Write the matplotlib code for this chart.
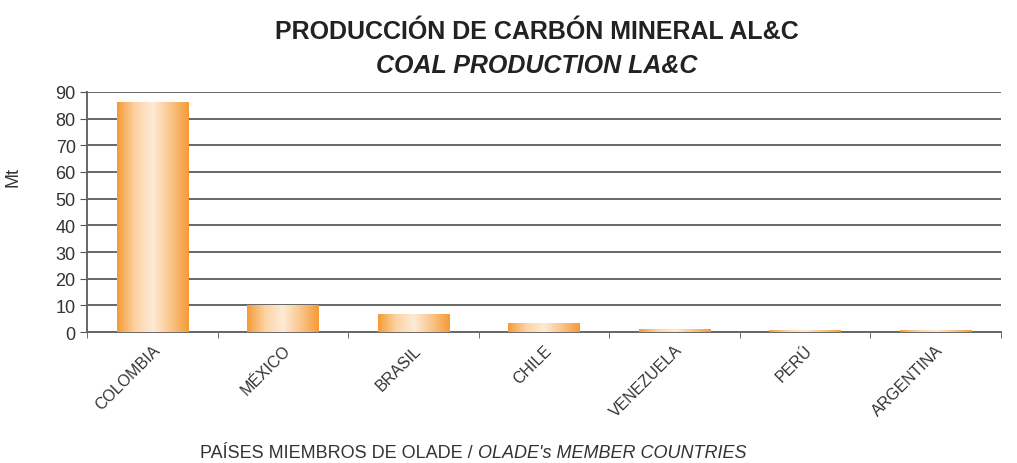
import numpy as np
import matplotlib.pyplot as plt
from matplotlib.colors import LinearSegmentedColormap

paises = ['COLOMBIA', 'MÉXICO', 'BRASIL', 'CHILE', 'VENEZUELA', 'PERÚ', 'ARGENTINA']
produccion = [85.9, 10.1, 6.7, 3.2, 1.0, 0.5, 0.4]
yticks = list(range(0, 91, 10))

plt.rcParams['font.family'] = ['Liberation Sans', 'DejaVu Sans']

fig = plt.figure(figsize=(10.17, 4.64), dpi=100)
ax = fig.add_axes([0.086, 0.282, 0.898, 0.518])

# gradient: orange edge -> light centre -> orange edge
cmap = LinearSegmentedColormap.from_list('naranja', ['#F59A35', '#FCD3A3', '#FDEBD6', '#FAC58A', '#F59A35'])
grad = np.linspace(0, 1, 256).reshape(1, -1)
ancho = 0.55
x = np.arange(len(paises))
for xi, v in zip(x, produccion):
    ax.imshow(grad, cmap=cmap, aspect='auto', extent=[xi - ancho / 2, xi + ancho / 2, 0, v], zorder=3)

ax.set_xlim(-0.5, len(paises) - 0.5)
ax.set_ylim(0, 90)
ax.set_yticks(yticks)
ax.set_xticks(x)
ax.set_xticks(np.arange(-0.5, len(paises), 1), minor=True)
ax.set_xticklabels(paises, rotation=45, ha='right', rotation_mode='anchor', fontsize=11.5, color='#333333')
ax.tick_params(axis='x', which='major', length=0, pad=7)
ax.tick_params(axis='x', which='minor', length=4, color='#555555')
ax.tick_params(axis='y', labelsize=13, length=5, color='#555555', labelcolor='#333333')
ax.yaxis.grid(True, color='#666666', linewidth=1.4, zorder=0)
ax.set_axisbelow(True)
for s in ['top', 'right']:
    ax.spines[s].set_visible(False)
ax.spines['left'].set_color('#666666')
ax.spines['bottom'].set_color('#666666')
ax.spines['left'].set_linewidth(1.4)
ax.spines['bottom'].set_linewidth(1.4)

ax.set_ylabel('Mt', fontsize=13, color='#333333')
ax.yaxis.set_label_coords(-0.072, 0.65)

fig.text(0.528, 0.932, 'PRODUCCIÓN DE CARBÓN MINERAL AL&C', ha='center', va='center',
         fontsize=18, fontweight='bold', color='#222222')
fig.text(0.528, 0.857, 'COAL PRODUCTION LA&C', ha='center', va='center',
         fontsize=18, fontweight='bold', style='italic', color='#222222')

fig.text(0.47, 0.005, 'PAÍSES MIEMBROS DE OLADE / ', ha='right', va='bottom', fontsize=13, color='#333333')
fig.text(0.47, 0.005, "OLADE's MEMBER COUNTRIES", ha='left', va='bottom', fontsize=13,
         style='italic', color='#333333')

fig.savefig('out.png', dpi=100)
